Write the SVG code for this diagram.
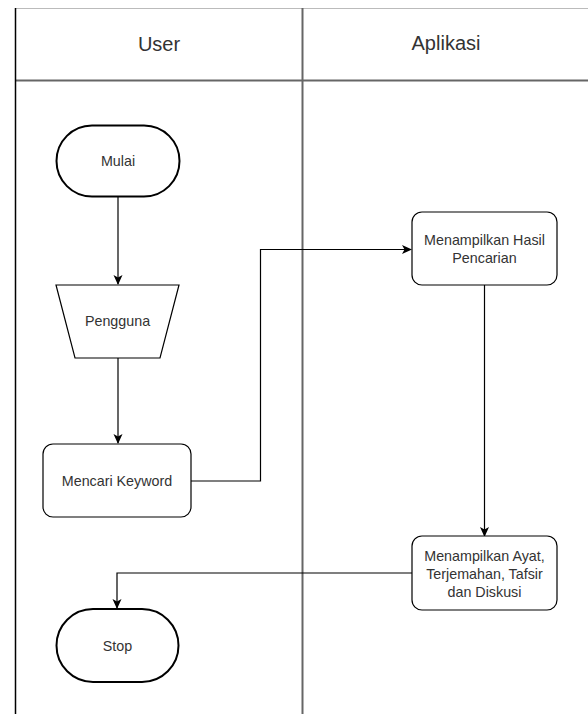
<svg xmlns="http://www.w3.org/2000/svg" width="588" height="714" viewBox="0 0 588 714">
<style>
  .t{font-family:"Liberation Sans",Arial,sans-serif;font-size:14.3px;fill:#333333;text-anchor:middle;dominant-baseline:central}
  .h{font-family:"Liberation Sans",Arial,sans-serif;font-size:20px;fill:#333333;text-anchor:middle;dominant-baseline:central}
  .term{fill:#ffffff;stroke:#000000;stroke-width:2}
  .box{fill:#ffffff;stroke:#000000;stroke-width:1.2}
  .edge{fill:none;stroke:#000000;stroke-width:1.2}
</style>
<defs>
  <marker id="arr" markerWidth="10" markerHeight="10" viewBox="0 0 10 10" refX="9" refY="5" orient="auto" markerUnits="userSpaceOnUse">
    <path d="M0,0.5 L10,5 L0,9.5 L2.5,5 Z" fill="#000000"/>
  </marker>
</defs>
<rect width="588" height="714" fill="#ffffff"/>
<g id="lanes">
  <line x1="15" y1="8.5" x2="588" y2="8.5" stroke="#bbbbbb" stroke-width="1.2"/>
  <line x1="15" y1="80.5" x2="588" y2="80.5" stroke="#666666" stroke-width="2"/>
  <line x1="302.5" y1="8" x2="302.5" y2="714" stroke="#666666" stroke-width="2"/>
  <line x1="15.5" y1="8" x2="15.5" y2="714" stroke="#000000" stroke-width="1.5"/>
  <text class="h" x="159" y="44">User</text>
  <text class="h" x="446" y="43">Aplikasi</text>
</g>
<g id="connectors">
  <line class="edge" x1="118" y1="197" x2="118" y2="284" marker-end="url(#arr)"/>
  <line class="edge" x1="118" y1="358" x2="118" y2="443" marker-end="url(#arr)"/>
  <polyline class="edge" points="191,481 260.5,481 260.5,249.5 411,249.5" marker-end="url(#arr)"/>
  <line class="edge" x1="484.5" y1="285" x2="484.5" y2="536" marker-end="url(#arr)"/>
  <polyline class="edge" points="412,573 117,573 117,608" marker-end="url(#arr)"/>
</g>
<g id="mulai">
  <rect class="term" x="56.5" y="125.5" width="123" height="71" rx="35.5" ry="35.5"/>
  <text class="t" x="118" y="161">Mulai</text>
</g>
<g id="pengguna">
  <polygon class="box" points="56,285 179,285 160,358 75,358"/>
  <text class="t" x="117.5" y="321">Pengguna</text>
</g>
<g id="mencari">
  <rect class="box" x="43" y="444" width="148" height="73" rx="10" ry="10"/>
  <text class="t" x="117" y="481">Mencari Keyword</text>
</g>
<g id="hasil">
  <rect class="box" x="412" y="212" width="145" height="73" rx="10" ry="10"/>
  <text class="t" x="484.5" y="239.5">Menampilkan Hasil</text>
  <text class="t" x="484.5" y="258">Pencarian</text>
</g>
<g id="ayat">
  <rect class="box" x="412" y="536" width="145" height="74" rx="10" ry="10"/>
  <text class="t" x="484.5" y="555.5">Menampilkan Ayat,</text>
  <text class="t" x="484.5" y="573.5">Terjemahan, Tafsir</text>
  <text class="t" x="484.5" y="591.5">dan Diskusi</text>
</g>
<g id="stop">
  <rect class="term" x="56.5" y="609" width="122" height="73" rx="36.5" ry="36.5"/>
  <text class="t" x="117.5" y="646">Stop</text>
</g>
</svg>
